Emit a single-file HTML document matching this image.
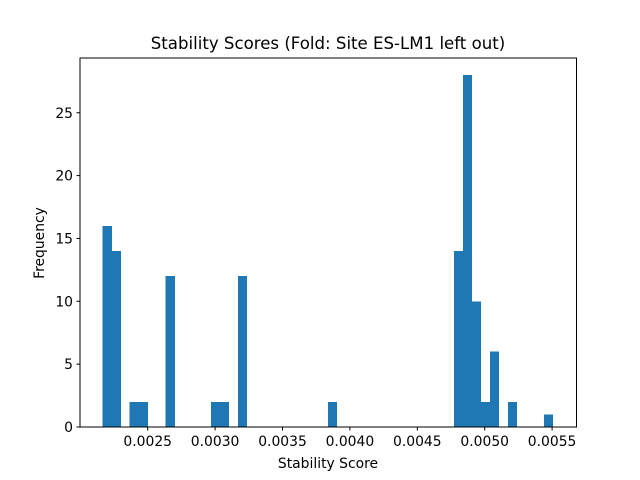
<!DOCTYPE html>
<html><head><meta charset="utf-8"><style>body{margin:0;background:#fff}svg{display:block;font-family:"DejaVu Sans","Liberation Sans",sans-serif}</style></head>
<body>
<svg id="chart" width="640" height="480" viewBox="0 0 640 480">
<rect width="640" height="480" fill="#fff"/>
<text x="328" y="49" text-anchor="middle" font-size="16.6">Stability Scores (Fold: Site ES-LM1 left out)</text>
<g id="bars" shape-rendering="crispEdges"></g>
<rect x="80" y="58" width="496.5" height="369" fill="none" stroke="#000" stroke-width="1"/>
<g id="xt"></g><g id="yt"></g>
<text x="328" y="468" text-anchor="middle" font-size="13.9">Stability Score</text>
<text transform="translate(44,243) rotate(-90)" text-anchor="middle" font-size="13.9">Frequency</text>
</svg>
<script>
const binStart = 0.0021662;
const binWidth = 0.0000668;
const counts = [16,14,0,2,2,0,0,12,0,0,0,0,2,2,0,12,0,0,0,0,0,0,0,0,0,2,0,0,0,0,0,0,0,0,0,0,0,0,0,14,28,10,2,6,0,2,0,0,0,1];
const xTicks = [0.0025,0.0030,0.0035,0.0040,0.0045,0.0050,0.0055];
const xTickLabels = ["0.0025","0.0030","0.0035","0.0040","0.0045","0.0050","0.0055"];
const yTicks = [0,5,10,15,20,25];
const ns="http://www.w3.org/2000/svg";
function X(v){return 147.7+(v-0.0025)*134800;}
function Y(v){return 427-v*12.57;}
const bars=document.getElementById('bars');
counts.forEach((c,i)=>{
  if(!c) return;
  const r=document.createElementNS(ns,'rect');
  const x0=X(binStart+i*binWidth), x1=X(binStart+(i+1)*binWidth);
  r.setAttribute('x',x0);r.setAttribute('width',x1-x0+0.3);
  r.setAttribute('y',Y(c));r.setAttribute('height',Y(0)-Y(c));
  r.setAttribute('fill','#1f77b4');
  
  
  bars.appendChild(r);
});
const xt=document.getElementById('xt');
xTicks.forEach((v,i)=>{
  const l=document.createElementNS(ns,'line');
  l.setAttribute('x1',X(v));l.setAttribute('x2',X(v));l.setAttribute('y1',427);l.setAttribute('y2',430.5);l.setAttribute('stroke','#000');
  
  
  xt.appendChild(l);
  const t=document.createElementNS(ns,'text');
  t.setAttribute('x',X(v));t.setAttribute('y',446);t.setAttribute('text-anchor','middle');t.setAttribute('font-size','13.9');
  t.textContent=xTickLabels[i];
  
  
  xt.appendChild(t);
});
const yt=document.getElementById('yt');
yTicks.forEach(v=>{
  const l=document.createElementNS(ns,'line');
  l.setAttribute('x1',76.5);l.setAttribute('x2',80);l.setAttribute('y1',Y(v));l.setAttribute('y2',Y(v));l.setAttribute('stroke','#000');
  
  
  yt.appendChild(l);
  const t=document.createElementNS(ns,'text');
  t.setAttribute('x',73);t.setAttribute('y',Y(v)+5);t.setAttribute('text-anchor','end');t.setAttribute('font-size','13.9');
  t.textContent=v;
  
  
  yt.appendChild(t);
});
</script>
</body></html>
